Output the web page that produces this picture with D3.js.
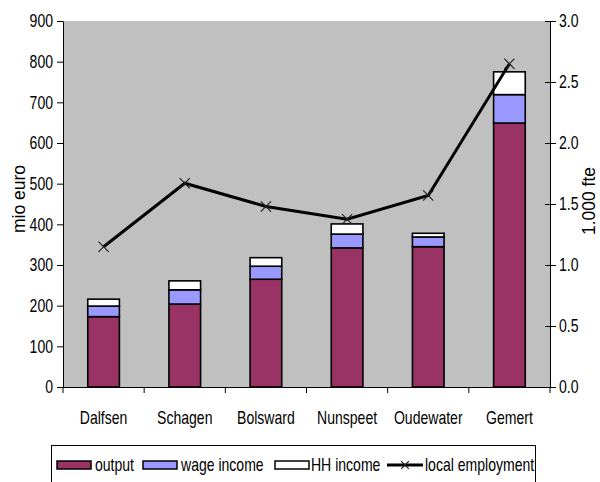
<!DOCTYPE html>
<html>
<head>
<meta charset="utf-8">
<script src="https://cdn.jsdelivr.net/npm/d3@7"></script>
<style>
  body { margin: 0; background: #fff; }
  text { font-family: "Liberation Sans", Arial, sans-serif; fill: #000; font-size: 18px; }
</style>
</head>
<body>
<div id="chart"></div>
<script>
// data
const categories = ["Dalfsen", "Schagen", "Bolsward", "Nunspeet", "Oudewater", "Gemert"];
const output = [173, 204, 265, 342, 345, 649];
const wageIncome = [26, 35, 32, 34, 24, 70];
const hhIncome = [17, 22, 21, 25, 9, 56];
const employment = [1.15, 1.67, 1.48, 1.375, 1.57, 2.65];
const leftTicks = [0, 100, 200, 300, 400, 500, 600, 700, 800, 900];
const rightTicks = [0, 0.5, 1, 1.5, 2, 2.5, 3];

const W = 600, H = 482;
const margin = {top: 21, right: 50, bottom: 95, left: 63},
  width = W - margin.left - margin.right,
  height = H - margin.top - margin.bottom;

// the original font is narrow, so squeeze texts horizontally round their anchor
const SX = 0.78;
function squeeze(sel) {
  sel.each(function() {
    const t = d3.select(this);
    const tx = +t.attr("x") || 0, ty = +t.attr("y") || 0;
    const prev = t.attr("transform") || "";
    t.attr("transform", prev + " translate(" + tx + "," + ty + ") scale(" + SX + ",1) translate(" + (-tx) + "," + (-ty) + ")");
  });
}

const svg = d3.select("#chart").append("svg")
    .attr("width", W)
    .attr("height", H);

const g = svg.append("g")
    .attr("transform", "translate(" + margin.left + "," + margin.top + ")");

// plot area
g.append("rect")
  .attr("width", width)
  .attr("height", height)
  .attr("fill", "#c0c0c0");

const x = d3.scaleBand().domain(categories).range([0, width]).paddingInner(0.61).paddingOuter(0.305);
const xTicks = d3.scalePoint().domain(d3.range(categories.length + 1)).range([0, width]);
const y = d3.scaleLinear().domain([0, 900]).range([height, 0]);
const y2 = d3.scaleLinear().domain([0, 3]).range([height, 0]);

// stacked bars
const rows = categories.map((c, i) => ({cat: c, output: output[i], wage: wageIncome[i], hh: hhIncome[i]}));
const stack = d3.stack().keys(["output", "wage", "hh"])(rows);
const colors = {output: "#993366", wage: "#9999ff", hh: "#ffffff"};

g.selectAll("g.layer")
  .data(stack)
  .join("g")
    .attr("class", "layer")
    .attr("fill", d => colors[d.key])
  .selectAll("rect")
  .data(d => d)
  .join("rect")
    .attr("x", d => x(d.data.cat))
    .attr("y", d => y(d[1]))
    .attr("width", x.bandwidth())
    .attr("height", d => y(d[0]) - y(d[1]))
    .attr("stroke", "#000")
    .attr("stroke-width", 1.6);

// left axis
const yAxis = g.append("g")
  .call(d3.axisLeft(y).tickValues(leftTicks).tickSize(6).tickPadding(4));

// right axis
const y2Axis = g.append("g")
  .attr("transform", "translate(" + width + ",0)")
  .call(d3.axisRight(y2).tickValues(rightTicks).tickFormat(d3.format(".1f")).tickSize(6).tickPadding(3));
y2Axis.selectAll(".tick line").attr("x1", -5);

// bottom axis
const xAxis = g.append("g")
  .attr("transform", "translate(0," + height + ")")
  .call(d3.axisBottom(x).tickSize(0).tickPadding(24));
xAxis.selectAll(".cat-tick")
  .data(xTicks.domain())
  .join("line")
    .attr("class", "cat-tick")
    .attr("x1", d => xTicks(d))
    .attr("x2", d => xTicks(d))
    .attr("y1", 0)
    .attr("y2", 6)
    .attr("stroke", "#000");

[yAxis, y2Axis, xAxis].forEach(a => {
  a.attr("font-size", null).attr("font-family", null);
  a.select(".domain").attr("stroke", "#000");
  a.selectAll(".tick line").attr("stroke", "#000");
  squeeze(a.selectAll("text"));
});

// local employment line
const line = d3.line()
  .x((d, i) => x(categories[i]) + x.bandwidth() / 2)
  .y(d => y2(d));
g.append("path")
  .datum(employment)
  .attr("fill", "none")
  .attr("stroke", "#000")
  .attr("stroke-width", 3)
  .attr("d", line);

const cross = d3.symbol().type(d3.symbolX).size(70);
g.selectAll(".marker")
  .data(employment)
  .join("path")
    .attr("class", "marker")
    .attr("transform", (d, i) => "translate(" + (x(categories[i]) + x.bandwidth() / 2) + "," + y2(d) + ")")
    .attr("d", cross)
    .attr("fill", "none")
    .attr("stroke", "#222")
    .attr("stroke-width", 1.2);

// axis titles
svg.append("text")
  .attr("transform", "translate(25,199) rotate(-90)")
  .attr("text-anchor", "middle")
  .style("font-size", "17.5px")
  .text("mio euro");
svg.append("text")
  .attr("transform", "translate(595,201) rotate(-90)")
  .attr("text-anchor", "middle")
  .style("font-size", "17.5px")
  .text("1.000 fte");

// legend
const legend = svg.append("g");
legend.append("rect")
  .attr("x", 51.5).attr("y", 445.5)
  .attr("width", 484).attr("height", 45)
  .attr("fill", "#fff")
  .attr("stroke", "#000");

const legendItems = [
  {label: "output", color: colors.output, sx: 57, tx: 95},
  {label: "wage income", color: colors.wage, sx: 143, tx: 181},
  {label: "HH income", color: colors.hh, sx: 275, tx: 311}
];
legendItems.forEach(d => {
  legend.append("rect")
    .attr("x", d.sx).attr("y", 461)
    .attr("width", 34).attr("height", 8)
    .attr("fill", d.color)
    .attr("stroke", "#000")
    .attr("stroke-width", 1.5);
  legend.append("text")
    .attr("x", d.tx).attr("y", 471)
    .text(d.label);
});
legend.append("line")
  .attr("x1", 387).attr("x2", 423)
  .attr("y1", 465).attr("y2", 465)
  .attr("stroke", "#000")
  .attr("stroke-width", 3);
legend.append("path")
  .attr("transform", "translate(405,465)")
  .attr("d", d3.symbol().type(d3.symbolX).size(40))
  .attr("fill", "none")
  .attr("stroke", "#222")
  .attr("stroke-width", 1.2);
legend.append("text")
  .attr("x", 425).attr("y", 471)
  .text("local employment");
squeeze(legend.selectAll("text"));
</script>
</body>
</html>
